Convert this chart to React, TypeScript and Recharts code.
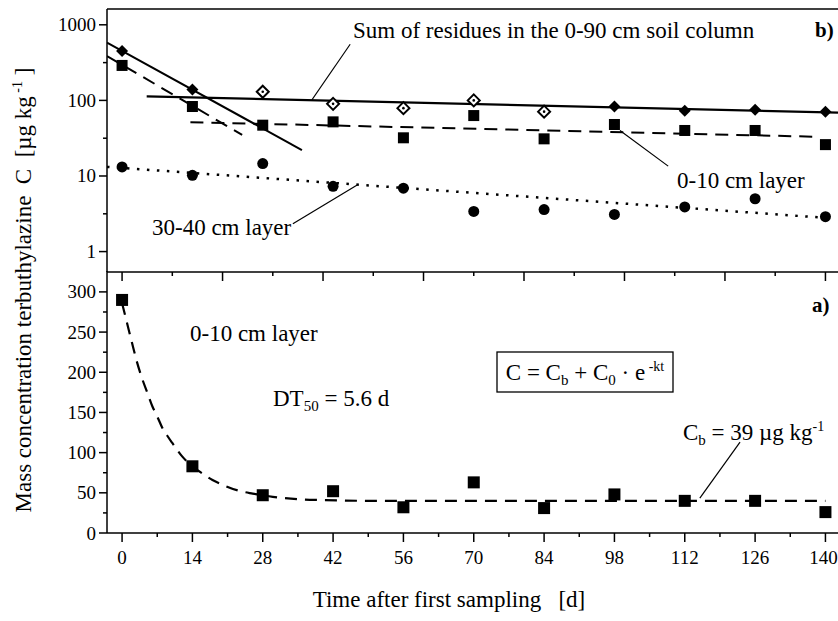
import { ComposedChart, Line, Scatter, XAxis, YAxis, ReferenceLine } from 'recharts';

const SERIF = "'Liberation Serif', 'Times New Roman', serif";

// sampling days
const days = [0, 14, 28, 42, 56, 70, 84, 98, 112, 126, 140];

// panel b) measured residues [µg/kg]
const sumResidues = [450, 139, 130, 90, 79, 100, 71, 83, 73, 75, 71];
const sumOpen = [false, false, true, true, true, true, true, false, false, false, false];
const layer0to10 = [290, 83, 47, 52, 32, 63, 31, 48, 40, 40, 26];
const layer30to40 = [13.2, 10.2, 14.6, 7.3, 6.9, 3.4, 3.6, 3.1, 3.9, 5.0, 2.9];

// panel b) fitted lines, end points
const sumFitEarly = [{ day: -3, c: 582 }, { day: 35.8, c: 22 }];
const sumFitLate = [{ day: 4.9, c: 113 }, { day: 142.5, c: 69 }];
const topFitEarly = [{ day: -3, c: 386 }, { day: 23.9, c: 35 }];
const topFitLate = [{ day: 13.6, c: 51.5 }, { day: 138.6, c: 33 }];
const deepFit = [{ day: -3, c: 13.2 }, { day: 141.5, c: 2.75 }];

// panel a) fitted curve
const curveDays = [0, 1, 2, 3, 4, 5, 6, 7, 8, 9, 10, 12, 14, 16, 18, 20, 23, 26, 30, 35, 40, 50, 60, 80, 100, 120, 140];
const curveC = [286, 261, 236, 212, 192, 175, 158, 145, 131, 121, 112, 95, 83, 74, 66, 60, 53, 49, 45, 42, 41, 40, 40, 40, 40, 40, 40];

// ticks
const logMajor = [1, 10, 100, 1000];
const logMinor = [3.16, 31.6, 316];
const topXTicks = [0, 10, 20, 30, 40, 50, 60, 70, 80, 90, 100, 110, 120, 130, 140];
const bottomXMajor = [0, 14, 28, 42, 56, 70, 84, 98, 112, 126, 140];
const bottomXMinor = [7, 21, 35, 49, 63, 77, 91, 105, 119, 133];
const linMajor = [0, 50, 100, 150, 200, 250, 300];
const linMinor = [25, 75, 125, 175, 225, 275];

const xDomain: [number, number] = [-3, 142.5];
const logDomain: [number, number] = [0.537, 1618];
const linDomain: [number, number] = [0, 326];

const sumData = days.map((day, i) => ({ day, c: sumResidues[i], open: sumOpen[i] }));
const topData = days.map((day, i) => ({ day, c: layer0to10[i] }));
const deepData = days.map((day, i) => ({ day, c: layer30to40[i] }));
const curveData = curveDays.map((day, i) => ({ day, c: curveC[i] }));

const Diamond = (props: any) => {
  const { cx, cy, payload } = props;
  const r = 6;
  const pts = `${cx},${cy - r} ${cx + r},${cy} ${cx},${cy + r} ${cx - r},${cy}`;
  if (payload.open) {
    return (
      <g>
        <polygon points={pts} fill="#fff" stroke="#000" strokeWidth={2} />
        <circle cx={cx} cy={cy} r={1.3} fill="#000" />
      </g>
    );
  }
  return <polygon points={pts} fill="#000" />;
};

const Square = (size: number) => (props: any) => {
  const { cx, cy } = props;
  return <rect x={cx - size / 2} y={cy - size / 2} width={size} height={size} fill="#000" />;
};

const Dot = (props: any) => <circle cx={props.cx} cy={props.cy} r={5.5} fill="#000" />;

const TopXTick = ({ x, y, payload }: any) => {
  const major = payload.value % 20 === 0;
  return <line x1={x} x2={x} y1={y} y2={y + (major ? 9 : 4)} stroke="#000" strokeWidth={1.5} />;
};

const BottomXTick = ({ x, y, payload }: any) => {
  const major = bottomXMajor.includes(payload.value);
  // last label sits against the right edge, as in the figure
  const last = payload.value === bottomXMajor[bottomXMajor.length - 1];
  return (
    <g>
      <line x1={x} x2={x} y1={y} y2={y + (major ? 9 : 4)} stroke="#000" strokeWidth={1.5} />
      {major && (
        <text x={last ? x - 2 : x} y={y + 31} textAnchor="middle" fontSize={19} fontFamily={SERIF} fill="#000">
          {payload.value}
        </text>
      )}
    </g>
  );
};

const makeYTick = (majors: number[]) => ({ x, y, payload }: any) => {
  const major = majors.includes(payload.value);
  return (
    <g>
      <line x1={x - (major ? 8 : 4)} x2={x} y1={y} y2={y} stroke="#000" strokeWidth={1.5} />
      {major && (
        <text x={x - 11} y={y + 6.5} textAnchor="end" fontSize={19} fontFamily={SERIF} fill="#000">
          {payload.value}
        </text>
      )}
    </g>
  );
};

const LogTick = makeYTick(logMajor);
const LinTick = makeYTick(linMajor);

const axisLine = { stroke: '#000', strokeWidth: 1.5 };
const W = 838;

const App = () => {
  return (
    <div style={{ position: 'absolute', left: 0, top: 0, width: W, height: 621, background: '#fff' }}>
      {/* panel b) log scale */}
      <div style={{ position: 'absolute', left: 0, top: 0 }}>
        <ComposedChart width={W} height={290} margin={{ top: 9, right: 0, bottom: 0, left: 0 }}>
          <XAxis
            type="number"
            dataKey="day"
            domain={xDomain}
            allowDataOverflow
            ticks={topXTicks}
            interval={0}
            tickSize={0}
            tickMargin={0}
            tickLine={false}
            tick={<TopXTick />}
            axisLine={axisLine}
            height={18}
          />
          <YAxis
            type="number"
            scale="log"
            domain={logDomain}
            allowDataOverflow
            ticks={[...logMajor, ...logMinor].sort((a, b) => a - b)}
            interval={0}
            tickSize={0}
            tickMargin={0}
            tickLine={false}
            tick={<LogTick />}
            axisLine={axisLine}
            width={107}
          />
          <ReferenceLine y={logDomain[1]} stroke="#000" strokeWidth={1.5} />
          <ReferenceLine segment={[{ x: 45.4, y: 553 }, { x: 37.8, y: 102 }]} stroke="#000" strokeWidth={1.2} />
          <ReferenceLine segment={[{ x: 108.7, y: 13.5 }, { x: 99.1, y: 40 }]} stroke="#000" strokeWidth={1.2} />
          <ReferenceLine segment={[{ x: 34, y: 2.34 }, { x: 46.8, y: 7.6 }]} stroke="#000" strokeWidth={1.2} />
          <Line data={sumFitEarly} dataKey="c" type="linear" stroke="#000" strokeWidth={2} dot={false} isAnimationActive={false} />
          <Line data={sumFitLate} dataKey="c" type="linear" stroke="#000" strokeWidth={2.2} dot={false} isAnimationActive={false} />
          <Line data={topFitEarly} dataKey="c" type="linear" stroke="#000" strokeWidth={2} strokeDasharray="13 8" dot={false} isAnimationActive={false} />
          <Line data={topFitLate} dataKey="c" type="linear" stroke="#000" strokeWidth={2} strokeDasharray="13 8" dot={false} isAnimationActive={false} />
          <Line data={deepFit} dataKey="c" type="linear" stroke="#000" strokeWidth={2.5} strokeDasharray="2.5 7.5" dot={false} isAnimationActive={false} />
          <Scatter data={deepData} dataKey="c" shape={Dot} isAnimationActive={false} />
          <Scatter data={topData} dataKey="c" shape={Square(11)} isAnimationActive={false} />
          <Scatter data={sumData} dataKey="c" shape={Diamond} isAnimationActive={false} />
        </ComposedChart>
      </div>

      {/* panel a) linear scale */}
      <div style={{ position: 'absolute', left: 0, top: 0 }}>
        <ComposedChart width={W} height={621} margin={{ top: 271, right: 0, bottom: 48, left: 0 }}>
          <XAxis
            type="number"
            dataKey="day"
            domain={xDomain}
            allowDataOverflow
            ticks={[...bottomXMajor, ...bottomXMinor].sort((a, b) => a - b)}
            interval={0}
            tickSize={0}
            tickMargin={0}
            tickLine={false}
            tick={<BottomXTick />}
            axisLine={axisLine}
            height={40}
          />
          <YAxis
            type="number"
            domain={linDomain}
            allowDataOverflow
            ticks={[...linMajor, ...linMinor].sort((a, b) => a - b)}
            interval={0}
            tickSize={0}
            tickMargin={0}
            tickLine={false}
            tick={<LinTick />}
            axisLine={axisLine}
            width={107}
          />
          <ReferenceLine segment={[{ x: 123, y: 113 }, { x: 115, y: 43.5 }]} stroke="#000" strokeWidth={1.2} />
          <Line data={curveData} dataKey="c" type="monotone" stroke="#000" strokeWidth={2.2} strokeDasharray="12 8" dot={false} isAnimationActive={false} />
          <Scatter data={topData} dataKey="c" shape={Square(12)} isAnimationActive={false} />
        </ComposedChart>
      </div>

      {/* annotations */}
      <svg
        width={W}
        height={621}
        style={{ position: 'absolute', left: 0, top: 0, pointerEvents: 'none' }}
        fontFamily={SERIF}
        fill="#000"
      >
        <text x={353} y={38} fontSize={23}>Sum of residues in the 0-90 cm soil column</text>
        <text x={815} y={37} fontSize={21} fontWeight="bold">b)</text>
        <text x={677} y={188} fontSize={23}>0-10 cm layer</text>
        <text x={152} y={235} fontSize={23}>30-40 cm layer</text>

        <text x={812} y={312} fontSize={21} fontWeight="bold">a)</text>
        <text x={190} y={341} fontSize={23}>0-10 cm layer</text>
        <text x={273} y={406} fontSize={23}>
          DT<tspan fontSize={15} dy={5}>50</tspan>
          <tspan dy={-5}> = 5.6 d</tspan>
        </text>
        <rect x={497} y={352} width={176} height={40} fill="none" stroke="#000" strokeWidth={1.3} />
        <text x={585} y={380} fontSize={23} textAnchor="middle">
          C = C<tspan fontSize={15} dy={5}>b</tspan>
          <tspan dy={-5}> + C</tspan>
          <tspan fontSize={15} dy={5}>0</tspan>
          <tspan dy={-5}> · e</tspan>
          <tspan fontSize={14} dy={-9}> -kt</tspan>
        </text>
        <text x={683} y={440} fontSize={23}>
          C<tspan fontSize={15} dy={5}>b</tspan>
          <tspan dy={-5}> = 39 µg kg</tspan>
          <tspan fontSize={14} dy={-9}>-1</tspan>
        </text>

        <text x={449} y={607} fontSize={23} textAnchor="middle" style={{ whiteSpace: 'pre' }}>
          Time after first sampling   [d]
        </text>
        <g transform="translate(31, 290) rotate(-90)">
          <text x={0} y={0} fontSize={23} textAnchor="middle" style={{ whiteSpace: 'pre' }}>
            Mass concentration terbuthylazine  C  [µg kg<tspan fontSize={14} dy={-9}> -1</tspan>
            <tspan dy={9}> ]</tspan>
          </text>
        </g>
      </svg>
    </div>
  );
};

export default App;
